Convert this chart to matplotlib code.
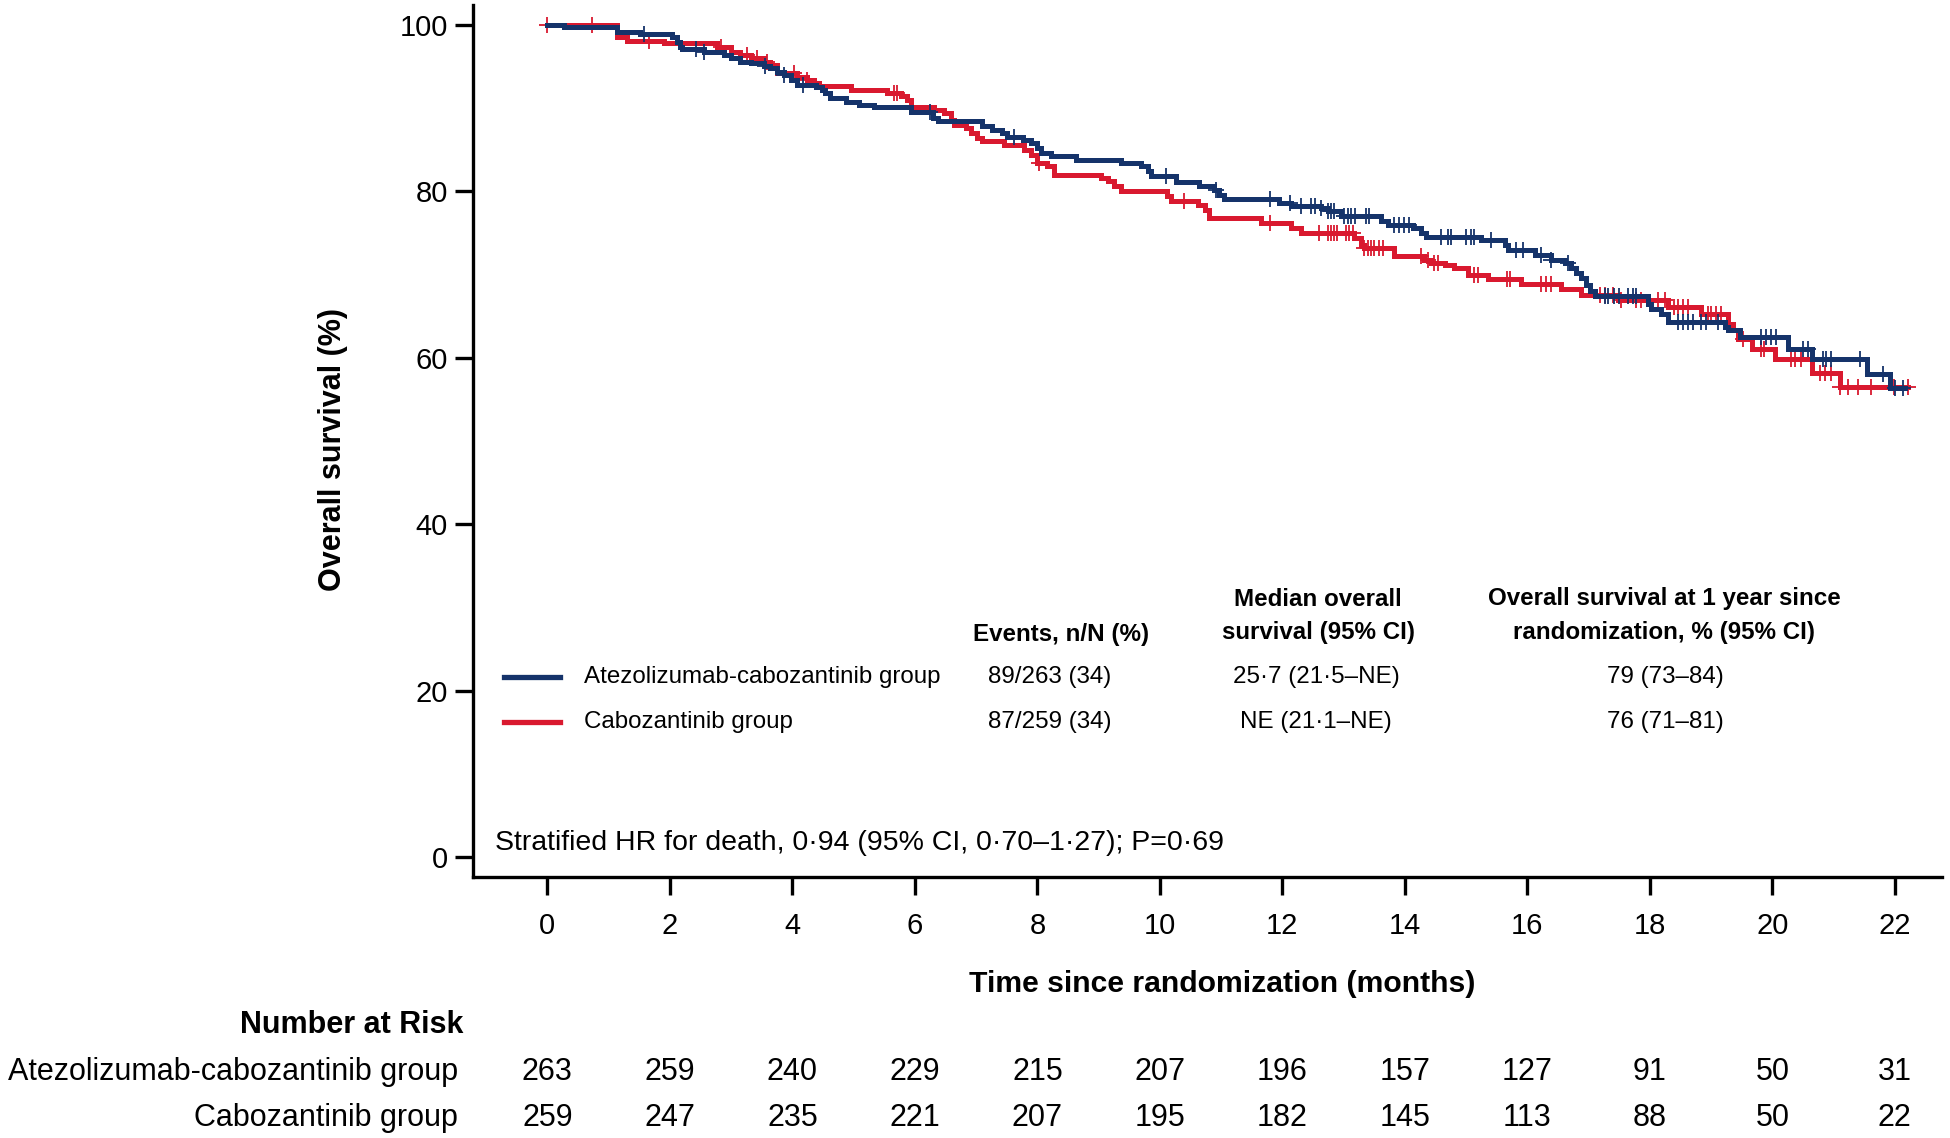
import numpy as np
import matplotlib
matplotlib.use("Agg")
import matplotlib.pyplot as plt
from matplotlib.transforms import blended_transform_factory

plt.rcParams['font.family'] = ['Liberation Sans', 'DejaVu Sans']

# Kaplan-Meier steps (time in months, survival % after the step)
atezo_t = [0, 0.27, 1.14, 1.52, 2.04, 2.12, 2.17, 2.20, 2.55, 2.88, 2.99, 3.15, 3.32, 3.54,
           3.64, 3.75, 3.86, 3.97, 4.08, 4.38, 4.49, 4.54, 4.62, 4.87, 5.09, 5.33, 5.93, 6.29,
           6.37, 7.10, 7.26, 7.43, 7.51, 7.76, 7.89, 8.00, 8.06, 8.22, 8.63, 9.36, 9.69, 9.80,
           9.85, 10.26, 10.64, 10.89, 10.97, 11.05, 11.95, 12.14, 12.63, 12.74, 12.96, 13.61,
           13.72, 14.13, 14.27, 14.35, 15.24, 15.63, 15.68, 16.12, 16.39, 16.61, 16.71, 16.80,
           16.88, 16.96, 17.02, 17.10, 17.97, 18.02, 18.19, 18.30, 19.22, 19.28, 19.47, 20.26,
           20.64, 21.54, 21.92, 22.16]
atezo_s = [100, 99.7, 99.2, 98.9, 98.6, 98.0, 97.4, 97.1, 96.7, 96.4, 96.0, 95.6, 95.4, 95.1,
           94.8, 94.4, 94.0, 93.4, 92.8, 92.6, 92.2, 91.8, 91.2, 90.8, 90.4, 90.1, 89.6, 88.8,
           88.4, 87.8, 87.4, 87.0, 86.5, 86.2, 85.8, 85.2, 84.6, 84.2, 83.8, 83.4, 83.0, 82.4,
           81.9, 81.1, 80.7, 80.2, 79.6, 79.1, 78.6, 78.2, 78.0, 77.6, 77.0, 76.4,
           76.0, 75.6, 75.0, 74.5, 74.2, 73.6, 72.9, 72.4, 71.8, 71.4, 70.8, 70.2,
           69.6, 68.8, 68.0, 67.4, 66.5, 65.9, 65.3, 64.3, 63.7, 63.3, 62.5, 61.1,
           59.8, 58.1, 56.4, 56.4]
atezo_cens = [1.57, 2.42, 2.55, 3.56, 3.86, 4.18, 6.25, 7.62, 10.1, 10.92, 11.79, 12.12, 12.3,
              12.46, 12.54, 12.63, 12.74, 12.8, 12.85, 13.0, 13.07, 13.12, 13.18, 13.37, 13.42,
              13.83, 13.91, 13.99, 14.07, 14.59, 14.70, 14.75, 14.99, 15.08, 15.13, 15.41, 15.82,
              15.93, 16.23, 16.39, 16.66, 17.26, 17.31, 17.42, 17.50, 17.64, 17.72, 17.78, 18.46,
              18.54, 18.62, 18.70, 18.84, 18.92, 19.11, 19.82, 19.90, 19.98, 20.06, 20.50, 20.58,
              20.83, 20.88, 20.96, 21.43, 21.81, 22.0, 22.14]

cabo_t = [0, 1.14, 1.30, 1.90, 2.77, 2.99, 3.15, 3.32, 3.54, 3.64, 3.75, 4.08, 4.24, 4.35,
          4.43, 4.95, 5.55, 5.77, 5.87, 5.93, 6.31, 6.48, 6.59, 6.64, 6.83, 6.91, 7.02, 7.10,
          7.46, 7.78, 7.89, 8.00, 8.16, 8.27, 9.04, 9.15, 9.25, 9.36, 10.12, 10.18, 10.62,
          10.73, 10.81, 11.65, 12.14, 12.31, 13.17, 13.28, 13.34, 13.83, 14.32, 14.43, 14.65,
          14.81, 15.03, 15.35, 15.90, 16.55, 16.88, 17.48, 18.30, 18.84, 19.28, 19.36, 19.44,
          19.66, 20.04, 20.64, 21.10, 22.21]
cabo_s = [100, 98.5, 98.1, 97.8, 97.4, 96.8, 96.4, 96.0, 95.6, 95.2, 94.2, 93.8, 93.4, 93.0,
          92.7, 92.2, 91.8, 91.5, 91.0, 90.2, 89.8, 89.4, 88.6, 88.0, 87.6, 87.0, 86.4, 86.0,
          85.6, 85.0, 84.4, 83.4, 83.0, 82.0, 81.6, 81.2, 80.7, 80.0, 79.4, 78.8, 78.4,
          77.8, 76.8, 76.2, 75.6, 75.0, 74.4, 73.6, 73.2, 72.2, 71.8, 71.4, 71.2,
          70.8, 70.0, 69.5, 68.9, 68.3, 67.5, 66.9, 66.1, 65.3, 64.1, 63.3, 62.3,
          61.1, 59.8, 58.2, 56.5, 56.5]
cabo_cens = [0.0, 0.73, 1.66, 2.83, 3.26, 3.43, 3.59, 4.02, 4.24, 5.66, 5.71, 8.03, 10.4, 11.8,
             12.6, 12.74, 12.8, 12.85, 12.9, 13.04, 13.09, 13.15, 13.34, 13.39, 13.45, 13.50,
             13.58, 13.64, 14.27, 14.37, 14.48, 14.54, 15.13, 15.19, 15.66, 15.71, 16.23, 16.31,
             16.39, 17.18, 17.26, 17.40, 17.53, 17.78, 17.86, 18.13, 18.24, 18.40, 18.46, 18.54,
             18.62, 18.95, 19.0, 19.08, 19.16, 19.52, 19.82, 19.87, 20.31, 20.37, 20.47, 20.77,
             20.86, 20.96, 21.10, 21.23, 21.40, 21.61, 21.99, 22.21]

groups = ["Atezolizumab-cabozantinib group", "Cabozantinib group"]
events = ["89/263 (34)", "87/259 (34)"]
medians = ["25·7 (21·5–NE)", "NE (21·1–NE)"]
os_1yr = ["79 (73–84)", "76 (71–81)"]
risk_times = [0, 2, 4, 6, 8, 10, 12, 14, 16, 18, 20, 22]
risk_atezo = [263, 259, 240, 229, 215, 207, 196, 157, 127, 91, 50, 31]
risk_cabo = [259, 247, 235, 221, 207, 195, 182, 145, 113, 88, 50, 22]

BLUE = '#15336a'
RED = '#d9192f'

fig = plt.figure(figsize=(19.5, 11.38), dpi=100)
ax = fig.add_axes([0.2424, 0.2294, 0.9959 - 0.2424, 0.9956 - 0.2294])


def km(t, s, cens, color):
    ax.step(t, s, where='post', color=color, lw=3.6, solid_joinstyle='miter')
    t = np.array(t)
    s = np.array(s)
    idx = np.searchsorted(t, cens, side='right') - 1
    ax.plot(cens, s[idx], ls='none', marker='+', ms=11, mew=1.3, color=color)


km(cabo_t, cabo_s, cabo_cens, RED)
km(atezo_t, atezo_s, atezo_cens, BLUE)

ax.set_xlim(-1.22, 22.77)
ax.set_ylim(-2.4, 102.4)
ax.set_xticks(risk_times)
ax.set_yticks([0, 20, 40, 60, 80, 100])
ax.tick_params(axis='both', labelsize=21, length=13, width=2.4, direction='out')
ax.tick_params(axis='x', pad=12)
ax.tick_params(axis='y', pad=5)
for i, tk in enumerate(ax.xaxis.get_major_ticks()):
    if risk_times[i] in (2, 4, 6, 8):
        tk.tick1line.set_color('#a6a6a6')
for side in ('top', 'right'):
    ax.spines[side].set_visible(False)
for side in ('left', 'bottom'):
    ax.spines[side].set_linewidth(2.4)


def fx(px):
    return px / 1950


def fy(py):
    return 1 - py / 1138


fig.text(fx(333), fy(450), "Overall survival (%)", rotation=90, fontsize=22,
         fontweight='bold', ha='center', va='center')
fig.text(fx(1222), fy(984), "Time since randomization (months)", fontsize=21.7,
         fontweight='bold', ha='center', va='center')

# legend / summary table inside the plot
hdr = dict(fontsize=17.4, fontweight='bold', ha='center', va='center')
fig.text(fx(1061), fy(634), "Events, n/N (%)", **hdr)
fig.text(fx(1318), fy(599), "Median overall", **hdr)
fig.text(fx(1318), fy(632), "survival (95% CI)", **hdr)
fig.text(fx(1664), fy(599), "Overall survival at 1 year since", **hdr)
fig.text(fx(1664), fy(632), "randomization, % (95% CI)", **hdr)
for i, (name, col) in enumerate(zip(groups, [BLUE, RED])):
    yy = fy(677 + 45 * i)
    fig.add_artist(plt.Line2D([fx(504), fx(560)], [yy, yy], color=col, lw=3.8))
    fig.text(fx(584), yy, name, fontsize=17.4, ha='left', va='center')
    fig.text(fx(1050), yy, events[i], fontsize=17.4, ha='center', va='center')
    fig.text(fx(1316), yy, medians[i], fontsize=17.4, ha='center', va='center')
    fig.text(fx(1665), yy, os_1yr[i], fontsize=17.4, ha='center', va='center')

fig.text(fx(495), fy(843), "Stratified HR for death, 0·94 (95% CI, 0·70–1·27); P=0·69",
         fontsize=20.5, ha='left', va='center')

# number at risk table
tr = blended_transform_factory(ax.transData, fig.transFigure)
fig.text(fx(463), fy(1025), "Number at Risk", fontsize=22, fontweight='bold',
         ha='right', va='center')
fig.text(fx(458), fy(1072), groups[0], fontsize=22, ha='right', va='center')
fig.text(fx(458), fy(1118), groups[1], fontsize=22, ha='right', va='center')
for t, a, c in zip(risk_times, risk_atezo, risk_cabo):
    ax.text(t, fy(1072), str(a), transform=tr, fontsize=22, ha='center', va='center')
    ax.text(t, fy(1118), str(c), transform=tr, fontsize=22, ha='center', va='center')

fig.savefig("out.png", dpi=100)
